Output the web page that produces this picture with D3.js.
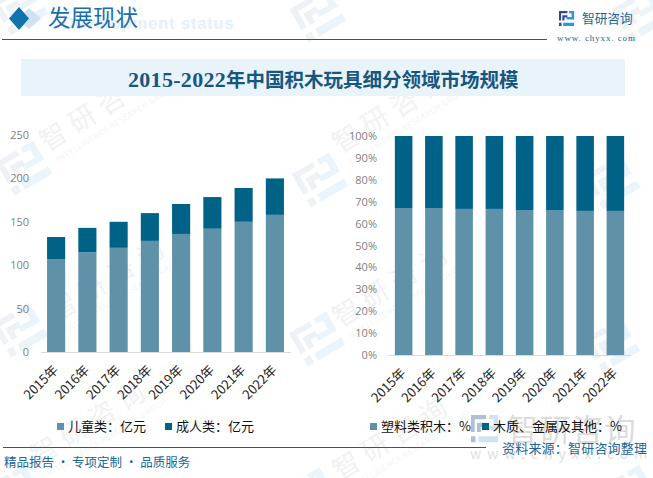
<!DOCTYPE html>
<html>
<head>
<meta charset="utf-8">
<title>2015-2022年中国积木玩具细分领域市场规模</title>
<script src="https://cdnjs.cloudflare.com/ajax/libs/d3/7.8.5/d3.min.js"></script>
<style>
  html, body { margin: 0; padding: 0; background: #fff; }
  svg { display: block; }
  text { font-family: "Noto Sans CJK SC", "Noto Sans", sans-serif; }
</style>
</head>
<body>
<script>
// chart data
var years = ["2015年", "2016年", "2017年", "2018年", "2019年", "2020年", "2021年", "2022年"];
var childValues = [107, 115, 120, 128, 136, 142, 150, 158];
var adultValues = [25.5, 28, 30, 32, 34.5, 36.5, 39, 42];
var plasticShare = [67.1, 67.1, 66.7, 66.7, 66.2, 66.2, 65.8, 65.8];
var otherShare = [32.9, 32.9, 33.3, 33.3, 33.8, 33.8, 34.2, 34.2];
var leftTicks = [0, 50, 100, 150, 200, 250];
var rightTicks = [0, 10, 20, 30, 40, 50, 60, 70, 80, 90, 100];
var leftLegend = ["儿童类：亿元", "成人类：亿元"];
var rightLegend = ["塑料类积木：%", "木质、金属及其他：%"];

var width = 653, height = 478;
var lightBar = "#5f92a9", darkBar = "#006286", navy = "#1a5f8a";

var svg = d3.select("body").append("svg")
  .attr("width", width)
  .attr("height", height);

// logo mark, 36 x 32 box
function logo(g, c1, c2) {
  g.append("path").attr("fill", c1)
    .attr("d", "M0 0H20V5H5V20H0Z M8 9H20V14H13V20H8Z M0 25H6V32H0Z");
  g.append("path").attr("fill", c2)
    .attr("d", "M24 0H36V18H18V13H30V5H24Z M10 25H36V32H10Z");
}

// watermark logos (centres) and words (start points)
var marks = [[24, 168], [320, 180], [612, 182], [20, 330], [317, 339], [612, 345], [20, 8], [318, 15], [640, 15], [15, 492], [310, 495], [630, 492]];
marks.forEach(function (m) {
  var g = svg.append("g").attr("transform", "translate(" + m[0] + "," + m[1] + ") rotate(-30) scale(1.2) translate(-18,-16)");
  logo(g, "#eef1f6", "#eaf4fa");
});
var words = [[47, 152], [340, 154], [57, 322], [340, 328], [38, 466], [340, 481]];
words.forEach(function (m) {
  var g = svg.append("g").attr("transform", "translate(" + m[0] + "," + m[1] + ") rotate(-32)");
  g.append("text").attr("font-size", 27).attr("fill", "#f1f2f4").attr("letter-spacing", 7).text("智研咨询");
  g.append("text").attr("x", 4).attr("y", 15).attr("font-size", 8).attr("fill", "#f3f4f6").attr("letter-spacing", 0.5).text("INTELLIGENCE RESEARCH GROUP");
});

// header
svg.append("path").attr("fill", "#cfe2ef").attr("d", "M29 8L41 18.5L29 29L18 18.5Z");
svg.append("path").attr("fill", "#1272ae").attr("d", "M19 7L29 18.5L19 30L9 18.5Z");
svg.append("text").attr("x", 62).attr("y", 29).attr("font-size", 17).attr("font-weight", 700)
  .attr("fill", "#e4f1fa").attr("letter-spacing", 0.6).style("font-family", '"Liberation Sans"').text("Development status");
svg.append("text").attr("x", 48).attr("y", 26).attr("font-size", 22.5).attr("fill", "#1b6ea8").text("发展现状");
svg.append("rect").attr("x", 2).attr("y", 39).attr("width", 545).attr("height", 1).attr("fill", navy);
var hl = svg.append("g").attr("transform", "translate(559,11) scale(0.42,0.47)");
logo(hl, "#2c4a8c", "#2b9ad6");
svg.append("text").attr("x", 582).attr("y", 23).attr("font-size", 12.7).attr("fill", "#1a6797").text("智研咨询");
svg.append("text").attr("x", 557).attr("y", 41).attr("font-size", 9).attr("fill", "#1a6797")
  .attr("letter-spacing", 0.9).style("font-family", '"Liberation Serif"').text("www. chyxx. com");

// title band
svg.append("rect").attr("x", 21).attr("y", 59).attr("width", 604).attr("height", 37).attr("fill", "#e8f3fa");
var title = svg.append("text").attr("x", 128).attr("y", 87)
  .attr("font-size", 19.5).attr("font-weight", 700).attr("fill", "#17577f");
title.append("tspan").attr("font-size", 22).attr("letter-spacing", 0.3)
  .style("font-family", '"Liberation Serif"').text("2015-2022");
title.append("tspan").text("年中国积木玩具细分领域市场规模");

// left and right stacked columns share this
function drawColumns(cfg) {
  var x = d3.scaleBand().domain(years).range(cfg.xRange).paddingInner(0.42).paddingOuter(0.21);
  var y = d3.scaleLinear().domain(cfg.domain).range(cfg.yRange);
  var rows = years.map(function (yr, i) { return { year: yr, a: cfg.a[i], b: cfg.b[i] }; });
  var stacked = d3.stack().keys(["a", "b"])(rows);
  var g = svg.append("g");

  g.selectAll("g.series").data(stacked).enter().append("g")
    .attr("class", "series")
    .attr("fill", function (d, i) { return i ? darkBar : lightBar; })
    .selectAll("rect").data(function (d) { return d; }).enter().append("rect")
    .attr("x", function (d) { return x(d.data.year); })
    .attr("y", function (d) { return y(d[1]); })
    .attr("width", x.bandwidth())
    .attr("height", function (d) { return y(d[0]) - y(d[1]); });

  var yAxis = g.append("g")
    .attr("transform", "translate(" + cfg.labelX + ",0)")
    .call(d3.axisLeft(y).tickValues(cfg.ticks).tickSize(0).tickPadding(0).tickFormat(cfg.format));
  yAxis.select(".domain").remove();
  yAxis.selectAll("text").attr("font-size", 11).attr("fill", "#7f7f7f")
    .style("font-family", '"Open Sans", "Noto Sans", sans-serif');

  var xAxis = g.append("g")
    .attr("transform", "translate(0," + cfg.yRange[0] + ")")
    .call(d3.axisBottom(x).tickSize(0).tickPadding(0));
  xAxis.select(".domain").attr("stroke", "#d9d9d9").attr("stroke-width", 1);
  xAxis.selectAll("text")
    .attr("font-size", 13).attr("fill", "#262626")
    .attr("text-anchor", "end")
    .attr("dy", "0.3em")
    .attr("transform", "translate(0,16) rotate(-45)");

  // legend
  var lg = g.append("g");
  cfg.legend.forEach(function (name, i) {
    lg.append("rect").attr("x", cfg.legendX[i]).attr("y", cfg.legendY - 8).attr("width", 7).attr("height", 7)
      .attr("fill", i ? darkBar : lightBar);
    lg.append("text").attr("x", cfg.legendX[i] + 11).attr("y", cfg.legendY)
      .attr("font-size", 13).attr("fill", "#111").text(name);
  });
}

// big watermark sits under the right legend
var bw = svg.append("g").attr("transform", "translate(471,415) scale(0.75,0.85)");
logo(bw, "#b3bed1", "#cfe3f0");
svg.append("text").attr("x", 507).attr("y", 441).attr("font-size", 31).attr("fill", "#dcdcdc").attr("letter-spacing", 1.5).text("智研咨询");
svg.append("text").attr("x", 470).attr("y", 459).attr("font-size", 14).attr("fill", "#dedede").attr("letter-spacing", 6).text("www.chyxx.com");

drawColumns({
  a: childValues, b: adultValues, domain: [0, 250], ticks: leftTicks,
  xRange: [40.5, 290.5], yRange: [352, 135], labelX: 29,
  format: function (d) { return d; },
  legend: leftLegend, legendX: [57, 165], legendY: 431
});
drawColumns({
  a: plasticShare, b: otherShare, domain: [0, 100], ticks: rightTicks,
  xRange: [388.5, 630.5], yRange: [355, 136], labelX: 377,
  format: function (d) { return d + "%"; },
  legend: rightLegend, legendX: [370, 482], legendY: 431
});

// footer
svg.append("rect").attr("x", 3).attr("y", 447).attr("width", 483).attr("height", 1).attr("fill", navy);
svg.append("text").attr("x", 4).attr("y", 467).attr("font-size", 12.5).attr("fill", "#1a6797").text("精品报告 · 专项定制 · 品质服务");
svg.append("text").attr("x", 502).attr("y", 453).attr("font-size", 13).attr("letter-spacing", 0.2).attr("fill", "#1a6797").text("资料来源：智研咨询整理");
</script>
</body>
</html>
